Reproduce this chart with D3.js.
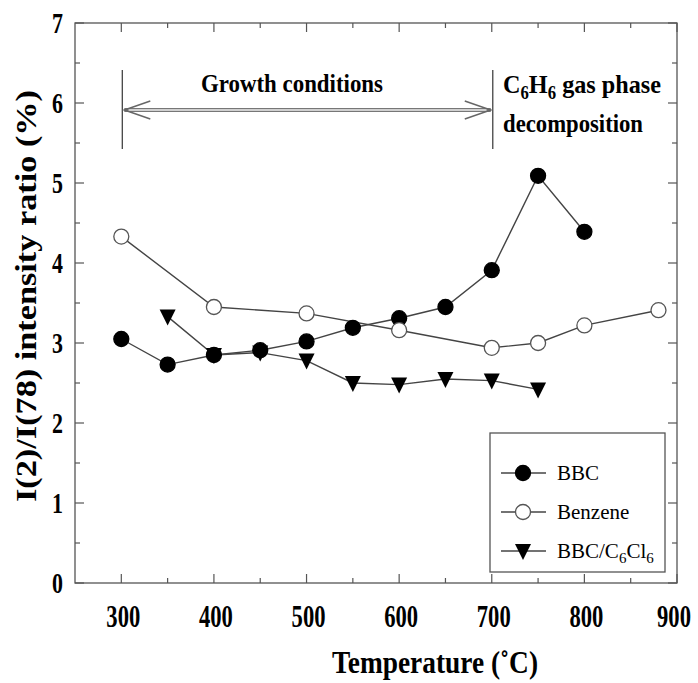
<!DOCTYPE html>
<html>
<head>
<meta charset="utf-8">
<script src="https://cdn.jsdelivr.net/npm/d3@7"></script>
<style>
  body { margin: 0; background: #fff; }
  svg { display: block; font-family: "Liberation Serif", "Times New Roman", serif; }
</style>
</head>
<body>
<svg></svg>
<script>
const svgWidth = 698;
const svgHeight = 683;
const margin = {left: 75, right: 21, top: 23, bottom: 100};

// data
const bbcTemp = [300, 350, 400, 450, 500, 550, 600, 650, 700, 750, 800];
const bbcRatio = [3.05, 2.73, 2.85, 2.91, 3.02, 3.19, 3.31, 3.45, 3.91, 5.09, 4.39];
const benzeneTemp = [300, 400, 500, 600, 700, 750, 800, 880];
const benzeneRatio = [4.33, 3.45, 3.37, 3.16, 2.94, 3.00, 3.22, 3.41];
const chlTemp = [350, 400, 450, 500, 550, 600, 650, 700, 750];
const chlRatio = [3.33, 2.85, 2.88, 2.78, 2.50, 2.48, 2.55, 2.53, 2.42];
const xTicks = [300, 400, 500, 600, 700, 800, 900];
const yTicks = [0, 1, 2, 3, 4, 5, 6, 7];
const growthRange = [300, 700];

const svg = d3.select("svg")
	.attr("width", svgWidth)
	.attr("height", svgHeight);

const xScale = d3.scaleLinear()
	.domain([250, 900])
	.range([margin.left, svgWidth - margin.right]);
const yScale = d3.scaleLinear()
	.domain([0, 7])
	.range([svgHeight - margin.bottom, margin.top]);

const x0 = xScale.range()[0], x1 = xScale.range()[1];
const y0 = yScale.range()[0], y1 = yScale.range()[1];
const axisColor = "#555";

// frame
svg.append("rect")
	.attr("x", x0).attr("y", y1)
	.attr("width", x1 - x0).attr("height", y0 - y1)
	.attr("fill", "none")
	.attr("stroke", axisColor)
	.attr("stroke-width", 1.3);

// inward ticks on all four sides
const minorX = d3.range(300, 900, 50).filter(v => v % 100 !== 0);
const minorY = d3.range(0.5, 7, 1);
const tickG = svg.append("g").attr("stroke", axisColor).attr("stroke-width", 1.2);
xTicks.concat(minorX).forEach(v => {
	const len = v % 100 === 0 ? 9 : 5;
	tickG.append("line").attr("x1", xScale(v)).attr("x2", xScale(v)).attr("y1", y0).attr("y2", y0 - len);
	tickG.append("line").attr("x1", xScale(v)).attr("x2", xScale(v)).attr("y1", y1).attr("y2", y1 + len);
});
yTicks.concat(minorY).forEach(v => {
	const len = Number.isInteger(v) ? 9 : 5;
	tickG.append("line").attr("y1", yScale(v)).attr("y2", yScale(v)).attr("x1", x0).attr("x2", x0 + len);
	tickG.append("line").attr("y1", yScale(v)).attr("y2", yScale(v)).attr("x1", x1).attr("x2", x1 - len);
});

// tick labels (narrow, tall digits)
svg.append("g")
	.selectAll("text")
	.data(xTicks)
	.enter()
	.append("text")
		.text(d => d)
		.attr("transform", d => `translate(${d === 900 ? xScale(d) - 3 : xScale(d) + 2},${y0 + 44}) scale(0.73,1)`)
		.attr("text-anchor", "middle")
		.attr("font-size", 31)
		.attr("font-weight", "bold");

svg.append("g")
	.selectAll("text")
	.data(yTicks)
	.enter()
	.append("text")
		.text(d => d)
		.attr("transform", d => `translate(${x0 - 12},${yScale(d) + 10}) scale(0.73,1)`)
		.attr("text-anchor", "end")
		.attr("font-size", 30)
		.attr("font-weight", "bold");

// axis titles
svg.append("text")
	.text("Temperature (\u02DAC)")
	.attr("x", 435)
	.attr("y", 673)
	.attr("text-anchor", "middle")
	.attr("font-size", 31)
	.attr("font-weight", "bold")
	.attr("textLength", 206)
	.attr("lengthAdjust", "spacingAndGlyphs");

svg.append("text")
	.text("I(2)/I(78) intensity ratio (%)")
	.attr("transform", "rotate(-90)")
	.attr("x", -296)
	.attr("y", 36)
	.attr("text-anchor", "middle")
	.attr("font-size", 30)
	.attr("font-weight", "bold")
	.attr("textLength", 412)
	.attr("lengthAdjust", "spacingAndGlyphs");

// lines and markers
const line = d3.line().x(d => xScale(d[0])).y(d => yScale(d[1]));
const series = [
	{temp: bbcTemp, ratio: bbcRatio, shape: "dot"},
	{temp: benzeneTemp, ratio: benzeneRatio, shape: "ring"},
	{temp: chlTemp, ratio: chlRatio, shape: "tri"}
];

function drawMarker(g, shape, cx, cy) {
	if (shape === "tri") {
		g.append("path")
			.attr("d", `M${cx - 8},${cy - 7}L${cx + 8},${cy - 7}L${cx},${cy + 9}Z`)
			.attr("fill", "#000");
	} else {
		g.append("circle")
			.attr("cx", cx).attr("cy", cy).attr("r", 7.5)
			.attr("fill", shape === "dot" ? "#000" : "#fff")
			.attr("stroke", shape === "dot" ? "#000" : "#555")
			.attr("stroke-width", 1.3);
	}
}

series.forEach(s => {
	const pts = s.temp.map((t, i) => [t, s.ratio[i]]);
	svg.append("path")
		.attr("d", line(pts))
		.attr("fill", "none")
		.attr("stroke", "#444")
		.attr("stroke-width", 1.4);
});
series.forEach(s => {
	const g = svg.append("g");
	s.temp.forEach((t, i) => drawMarker(g, s.shape, xScale(t), yScale(s.ratio[i])));
});

// growth conditions annotation
const ann = svg.append("g");
const gx0 = xScale(growthRange[0]) + 1, gx1 = xScale(growthRange[1]) + 1;
[gx0, gx1].forEach(x => {
	ann.append("line")
		.attr("x1", x).attr("x2", x).attr("y1", 70).attr("y2", 149)
		.attr("stroke", "#444").attr("stroke-width", 1.3);
});
ann.append("line")
	.attr("x1", gx0 + 2).attr("x2", gx1 - 2).attr("y1", 110).attr("y2", 110)
	.attr("stroke", "#777").attr("stroke-width", 4);
ann.append("line")
	.attr("x1", gx0 + 6).attr("x2", gx1 - 6).attr("y1", 110).attr("y2", 110)
	.attr("stroke", "#eee").attr("stroke-width", 1.6);
ann.append("path")
	.attr("d", `M${gx0 + 28},101L${gx0 + 2},110L${gx0 + 28},119M${gx1 - 28},101L${gx1 - 2},110L${gx1 - 28},119`)
	.attr("fill", "none").attr("stroke", "#666").attr("stroke-width", 1.5);

ann.append("text")
	.text("Growth conditions")
	.attr("x", 292)
	.attr("y", 92)
	.attr("text-anchor", "middle")
	.attr("font-size", 26)
	.attr("font-weight", "bold")
	.attr("textLength", 182)
	.attr("lengthAdjust", "spacingAndGlyphs");

const c6 = ann.append("text")
	.attr("x", 503)
	.attr("y", 93)
	.attr("font-size", 26)
	.attr("font-weight", "bold")
	.attr("textLength", 158)
	.attr("lengthAdjust", "spacingAndGlyphs");
c6.append("tspan").text("C");
c6.append("tspan").text("6").attr("font-size", 18).attr("dy", 6);
c6.append("tspan").text("H").attr("dy", -6);
c6.append("tspan").text("6").attr("font-size", 18).attr("dy", 6);
c6.append("tspan").text(" gas phase").attr("dy", -6);

ann.append("text")
	.text("decomposition")
	.attr("x", 503)
	.attr("y", 132)
	.attr("font-size", 26)
	.attr("font-weight", "bold")
	.attr("textLength", 140)
	.attr("lengthAdjust", "spacingAndGlyphs");

// legend
const legend = svg.append("g");
legend.append("rect")
	.attr("x", 490).attr("y", 433)
	.attr("width", 175).attr("height", 139)
	.attr("fill", "#fff")
	.attr("stroke", "#555")
	.attr("stroke-width", 1.3);

const legendRows = [
	{label: "BBC", shape: "dot", y: 473},
	{label: "Benzene", shape: "ring", y: 512},
	{label: "BBC/C6Cl6", shape: "tri", y: 551}
];
legendRows.forEach(r => {
	legend.append("line")
		.attr("x1", 501).attr("x2", 546).attr("y1", r.y).attr("y2", r.y)
		.attr("stroke", "#444").attr("stroke-width", 1.4);
	drawMarker(legend, r.shape, 523, r.y);
	const t = legend.append("text")
		.attr("x", 557)
		.attr("y", r.y + 7)
		.attr("font-size", 21);
	if (r.shape === "tri") {
		t.append("tspan").text("BBC/C");
		t.append("tspan").text("6").attr("font-size", 15).attr("dy", 5);
		t.append("tspan").text("Cl").attr("dy", -5);
		t.append("tspan").text("6").attr("font-size", 15).attr("dy", 5);
	} else {
		t.text(r.label);
	}
});
</script>
</body>
</html>
